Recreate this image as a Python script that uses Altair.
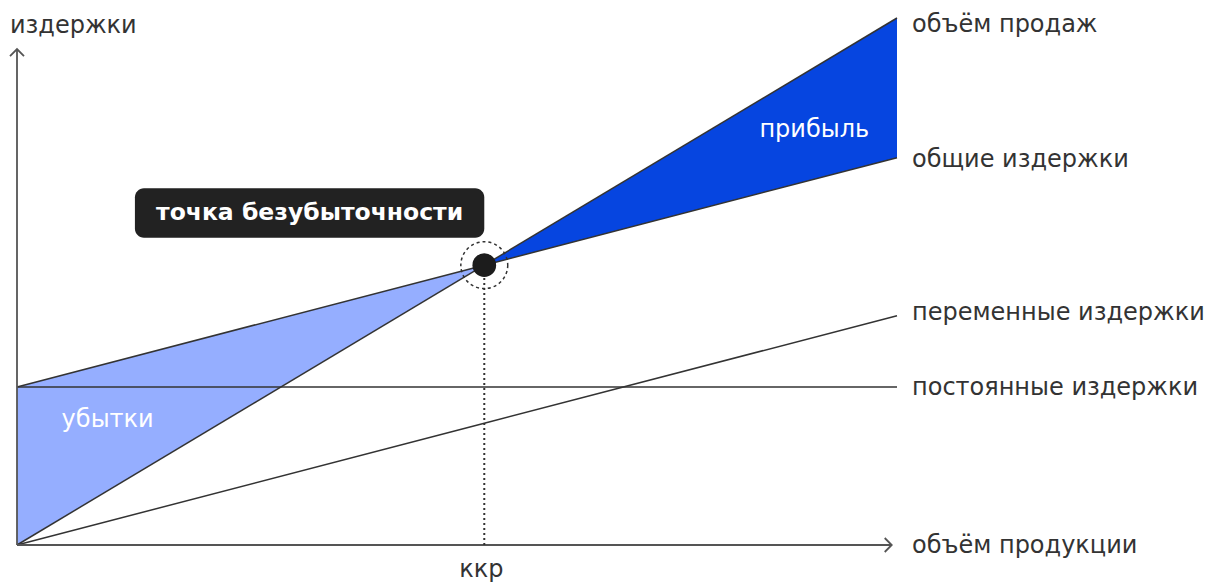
import altair as alt
import pandas as pd

# ---- data ----
quantity = [0, 53.1, 100]
sales = [0, 53.1, 100]
total_costs = [30, 53.1, 73.5]
fixed_costs = [30, 30, 30]
variable_costs = [0, 23.1, 43.5]
break_even_q = 53.1
break_even_v = 53.1

right_labels = ["объём продаж", "общие издержки", "переменные издержки", "постоянные издержки", "объём продукции"]
right_label_y = [98.9, 73.2, 44.3, 30, 0]

axis_end_x = 99.4
axis_end_y = 94.1

LIGHT = "#95aeff"
DARK = "#0645e0"
INK = "#333333"
AX = "#555555"
FONT = "DejaVu Sans"
FS = 24

xs = alt.Scale(domain=[0, 100], nice=False, zero=False)
ys = alt.Scale(domain=[0, 100], nice=False, zero=False)
X = lambda f: alt.X(f, type="quantitative", scale=xs, axis=None)
Y = lambda f: alt.Y(f, type="quantitative", scale=ys, axis=None)

curves = pd.DataFrame({"q": quantity, "sales": sales, "total": total_costs})
loss = curves.iloc[:2]
profit = curves.iloc[1:]

loss_area = alt.Chart(loss).mark_area(color=LIGHT, opacity=1).encode(
    x=X("q"), y=Y("sales"), y2="total")
profit_area = alt.Chart(profit).mark_area(color=DARK, opacity=1).encode(
    x=X("q"), y=Y("sales"), y2="total")

rows = []
for name, vals in [("sales", sales), ("total", total_costs),
                   ("fixed", fixed_costs), ("variable", variable_costs)]:
    for q, v in zip(quantity, vals):
        rows.append({"series": name, "q": q, "v": v})
lines_df = pd.DataFrame(rows)
lines = alt.Chart(lines_df).mark_line(color=INK, strokeWidth=1.5).encode(
    x=X("q"), y=Y("v"), detail="series:N")

# axes
axes_df = pd.DataFrame({"x0": [0, 0], "x1": [axis_end_x, 0], "y0": [0, 0], "y1": [0, axis_end_y]})
axes = alt.Chart(axes_df).mark_rule(color=AX, strokeWidth=1.8).encode(
    x=X("x0"), x2="x1", y=Y("y0"), y2="y1")
arrow_x = alt.Chart(pd.DataFrame({"x": [axis_end_x], "y": [0]})).mark_point(
    shape="M -1 -1 L 0 0 L -1 1", filled=False, size=196, strokeWidth=1.8,
    color=AX, opacity=1).encode(x=X("x"), y=Y("y"))
arrow_y = alt.Chart(pd.DataFrame({"x": [0], "y": [axis_end_y]})).mark_point(
    shape="M -1 1 L 0 0 L 1 1", filled=False, size=196, strokeWidth=1.8,
    color=AX, opacity=1).encode(x=X("x"), y=Y("y"))

# break-even marker
be = pd.DataFrame({"q": [break_even_q], "v": [break_even_v], "z": [0]})
drop = alt.Chart(be).mark_rule(color=INK, strokeWidth=2, strokeDash=[2, 3]).encode(
    x=X("q"), y=Y("z"), y2="v")
ring = alt.Chart(be).mark_point(shape="circle", filled=False, size=2200,
                                strokeDash=[3, 3], strokeWidth=1.5, color=INK,
                                opacity=1).encode(x=X("q"), y=Y("v"))
dot = alt.Chart(be).mark_point(shape="circle", filled=True, size=560,
                               color="#1c1c1c", opacity=1).encode(x=X("q"), y=Y("v"))

# label box
box_df = pd.DataFrame({"x0": [13.4], "x1": [53.1], "y0": [58.3], "y1": [67.7],
                       "xc": [33.25], "yc": [63.0], "t": ["точка безубыточности"]})
box = alt.Chart(box_df).mark_rect(color="#222222", cornerRadius=9).encode(
    x=X("x0"), x2="x1", y=Y("y0"), y2="y1")
box_text = alt.Chart(box_df).mark_text(color="white", fontSize=23.5, fontWeight="bold",
                                       font=FONT, align="center", baseline="middle").encode(
    x=X("xc"), y=Y("yc"), text="t:N")

# right labels
rl = pd.DataFrame({"x": [100] * len(right_labels), "y": right_label_y, "t": right_labels})
right_text = alt.Chart(rl).mark_text(color=INK, fontSize=FS, font=FONT, align="left",
                                     baseline="middle", dx=15, dy=1).encode(
    x=X("x"), y=Y("y"), text="t:N")

# other labels
other = pd.DataFrame({"x": [-0.8], "y": [98.5], "t": ["издержки"]})
y_title = alt.Chart(other).mark_text(color=INK, fontSize=FS, font=FONT, align="left",
                                     baseline="middle").encode(x=X("x"), y=Y("y"), text="t:N")
kkr = alt.Chart(pd.DataFrame({"x": [break_even_q], "y": [0], "t": ["ккр"]})).mark_text(
    color=INK, fontSize=FS, font=FONT, align="center", baseline="middle", dy=25, dx=-3).encode(
    x=X("x"), y=Y("y"), text="t:N")
inner = pd.DataFrame({"x": [90.6, 10.3], "y": [78.7, 23.7], "t": ["прибыль", "убытки"]})
inner_text = alt.Chart(inner).mark_text(color="white", fontSize=FS, font=FONT, align="center",
                                        baseline="middle").encode(x=X("x"), y=Y("y"), text="t:N")

chart = alt.layer(
    loss_area, profit_area, lines, axes, arrow_x, arrow_y, drop, ring, dot,
    box, box_text, right_text, y_title, kkr, inner_text
).properties(
    width=880, height=527,
    padding={"left": 17, "top": 18, "right": 319, "bottom": 38},
    autosize=alt.AutoSizeParams(type="none"),
).configure(background="white").configure_view(strokeWidth=0, stroke=None)

chart.save("out.html", embed_options={"renderer": "svg", "actions": False})
